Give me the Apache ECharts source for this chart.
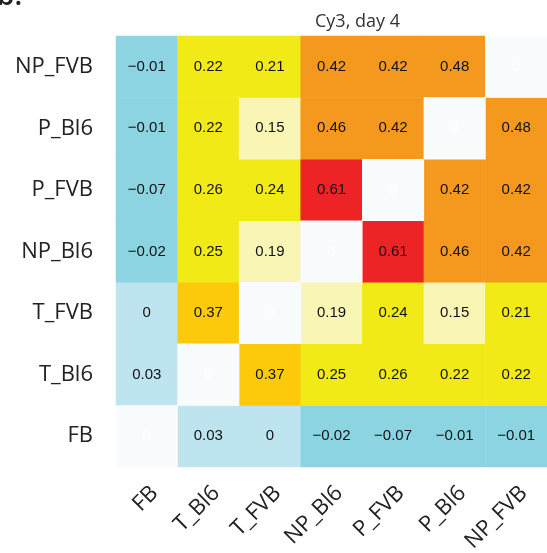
<!DOCTYPE html>
<html>
<head>
<meta charset="utf-8">
<script src="https://cdn.jsdelivr.net/npm/echarts@6/dist/echarts.min.js"></script>
<style>
  html, body { margin: 0; padding: 0; background: #fff; }
  #chart { width: 547px; height: 553px; }
</style>
</head>
<body>
<div id="chart"></div>
<script>
// Sample groups, in axis order (x left→right, y bottom→top)
const groups = ["FB", "T_Bl6", "T_FVB", "NP_Bl6", "P_FVB", "P_Bl6", "NP_FVB"];

// Correlation matrix, one row per group (same order as groups); diagonal = self
const rowFB     = [0,     0.03, 0,    -0.02, -0.07, -0.01, -0.01];
const rowT_Bl6  = [0.03,  0,    0.37,  0.25,  0.26,  0.22,  0.22];
const rowT_FVB  = [0,     0.37, 0,     0.19,  0.24,  0.15,  0.21];
const rowNP_Bl6 = [-0.02, 0.25, 0.19,  0,     0.61,  0.46,  0.42];
const rowP_FVB  = [-0.07, 0.26, 0.24,  0.61,  0,     0.42,  0.42];
const rowP_Bl6  = [-0.01, 0.22, 0.15,  0.46,  0.42,  0,     0.48];
const rowNP_FVB = [-0.01, 0.22, 0.21,  0.42,  0.42,  0.48,  0];
const matrix = [rowFB, rowT_Bl6, rowT_FVB, rowNP_Bl6, rowP_FVB, rowP_Bl6, rowNP_FVB];

const titleText = "Cy3, day 4";
const panelLetter = "b.";

const offDiag = [];
const diag = [];
matrix.forEach((row, yi) => {
  row.forEach((v, xi) => {
    if (xi === yi) diag.push([xi, yi, v]);
    else offDiag.push([xi, yi, v]);
  });
});

const fmt = p => String(p.value[2]).replace('-', '\u2212');

const chart = echarts.init(document.getElementById('chart'), null, { renderer: 'canvas' });
chart.setOption({
  animation: false,
  backgroundColor: '#ffffff',
  title: {
    text: titleText,
    left: 310, top: 8,
    textStyle: { fontFamily: 'Open Sans', fontSize: 18, fontWeight: 'normal', color: '#333' }
  },
  // panel letter, mostly above the top edge of the canvas
  graphic: [{
    type: 'text', x: -3, y: -17,
    style: { text: panelLetter, font: '600 28px "Open Sans"', fill: '#222' }
  }],
  grid: { left: 116, top: 36, width: 431, height: 431, outerBoundsMode: 'none', containLabel: false },
  xAxis: {
    type: 'category', data: groups,
    axisLine: { show: false }, axisTick: { show: false }, splitLine: { show: false },
    axisLabel: {
      rotate: 45, margin: 15, verticalAlign: 'top', color: '#222',
      fontFamily: 'Open Sans', fontSize: 22, interval: 0
    }
  },
  yAxis: {
    type: 'category', data: groups,
    axisLine: { show: false }, axisTick: { show: false }, splitLine: { show: false },
    axisLabel: {
      margin: 23, color: '#222',
      fontFamily: 'Open Sans', fontSize: 22, interval: 0
    }
  },
  visualMap: {
    type: 'piecewise', show: false, seriesIndex: 0, dimension: 2,
    pieces: [
      { lt: 0, color: '#8dd4e2' },
      { gte: 0, lt: 0.1, color: '#bee5ef' },
      { gte: 0.1, lt: 0.2, color: '#f8f5b5' },
      { gte: 0.2, lt: 0.3, color: '#f2ea17' },
      { gte: 0.3, lt: 0.4, color: '#fcca0a' },
      { gte: 0.4, lt: 0.5, color: '#f5991e' },
      { gte: 0.5, color: '#ee2325' }
    ]
  },
  series: [
    {
      type: 'heatmap', data: offDiag,
      label: { show: true, formatter: fmt, color: '#111', fontFamily: 'Liberation Sans', fontSize: 15 },
      itemStyle: { borderWidth: 0 },
      emphasis: { disabled: true }
    },
    {
      type: 'heatmap', data: diag,
      itemStyle: { color: '#f8fcfd', borderWidth: 0 },
      label: { show: true, formatter: fmt, color: '#ffffff', fontFamily: 'Liberation Sans', fontSize: 15 },
      emphasis: { disabled: true }
    }
  ]
});
</script>
</body>
</html>
